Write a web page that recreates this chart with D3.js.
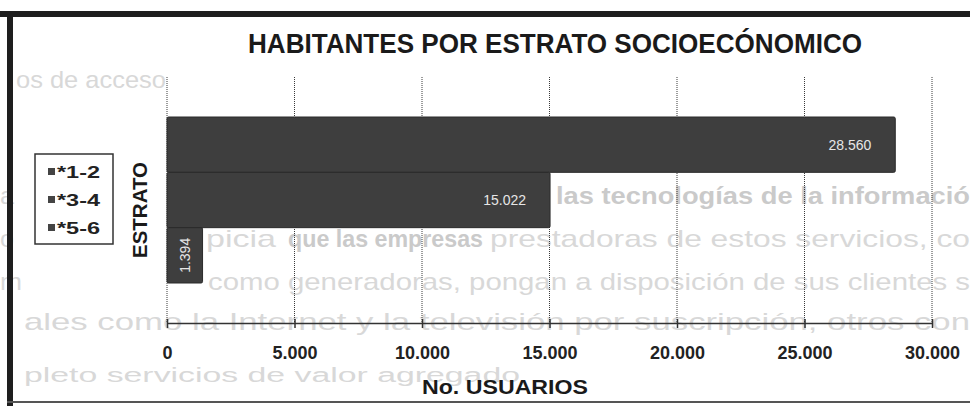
<!DOCTYPE html>
<meta charset="utf-8">
<style>
body { margin: 0; background: #fff; }
svg { display: block; font-family: "Liberation Sans", Arial, sans-serif; }
.bleed text { fill: #d8d8d8; font-size: 24px; }
.bleed text.b { fill: #cacaca; font-weight: bold; }
.grid line { stroke: #3a3a3a; stroke-width: 1; stroke-dasharray: 1,1; }
.axis path, .axis line { stroke: #333; stroke-width: 1.5; }
.axis text { font-size: 18px; font-weight: bold; fill: #222; }
.bar { fill: #3e3e3e; stroke: #2a2a2a; stroke-width: 1; }
.vlabel { fill: #e6e6e6; font-size: 14px; }
</style>
<svg id="chart" width="970" height="406"></svg>
<script src="https://cdn.jsdelivr.net/npm/d3@7"></script>
<script>
// chart data
var series = ["*1-2", "*3-4", "*5-6"];
var usuarios = [28560, 15022, 1394];
var xTicks = [0, 5000, 10000, 15000, 20000, 25000, 30000];
var title = "HABITANTES POR ESTRATO SOCIOECÓNOMICO";

// page text showing through the scan
var bleedLines = [
  {x: 16, y: 88, t: "os de acceso", w: 150},
  {x: 0, y: 204, t: "a", w: 14},
  {x: 556, y: 204, t: "las tecnologías de la informació", w: 414, b: true},
  {x: 0, y: 247, t: "o", w: 14},
  {x: 206, y: 247, t: "picia", w: 70},
  {x: 288, y: 247, t: "que las empresas", w: 195, b: true},
  {x: 490, y: 247, t: "prestadoras de estos servicios, co", w: 480},
  {x: 208, y: 290, t: "como generadoras, pongan a disposición de sus clientes s", w: 762},
  {x: 0, y: 290, t: "m", w: 22},
  {x: 24, y: 330, t: "ales como la Internet y la televisión por suscripción, otros con", w: 946},
  {x: 24, y: 382, t: "pleto servicios de valor agregado", w: 496, s: 20}
];

var fmt = d3.formatLocale({decimal: ",", thousands: ".", grouping: [3], currency: ["$", ""]}).format(",");

var svg = d3.select("#chart");
var plotLeft = 167, plotRight = 932, plotTop = 77, plotBottom = 323;

var x = d3.scaleLinear().domain([0, 30000]).range([plotLeft, plotRight]);
var y = d3.scaleBand().domain(series).range([plotTop + 40, plotBottom - 40]);

// faint background text
svg.append("g").attr("class", "bleed")
  .selectAll("text").data(bleedLines).enter().append("text")
    .attr("class", function(d) { return d.b ? "b" : null; })
    .attr("x", function(d) { return d.x; })
    .attr("y", function(d) { return d.y; })
    .attr("textLength", function(d) { return d.w; })
    .attr("lengthAdjust", "spacingAndGlyphs")
    .style("font-size", function(d) { return d.s ? d.s + "px" : null; })
    .text(function(d) { return d.t; });

// frame of the scanned chart
svg.append("rect").attr("x", 0).attr("y", 11).attr("width", 970).attr("height", 6).attr("fill", "#1e1e1e");
svg.append("rect").attr("x", 7).attr("y", 11).attr("width", 6).attr("height", 395).attr("fill", "#1e1e1e");
svg.append("rect").attr("x", 7).attr("y", 401).attr("width", 963).attr("height", 2).attr("fill", "#555");

// title
svg.append("text")
  .attr("x", 248).attr("y", 53)
  .attr("textLength", 614).attr("lengthAdjust", "spacingAndGlyphs")
  .style("font-size", "27px").style("font-weight", "bold").style("fill", "#1a1a1a")
  .text(title);

// vertical gridlines
svg.append("g").attr("class", "grid")
  .selectAll("line").data(xTicks).enter().append("line")
    .attr("x1", function(d) { return x(d); })
    .attr("x2", function(d) { return x(d); })
    .attr("y1", plotTop).attr("y2", plotBottom);

// bars
svg.selectAll(".bar").data(series).enter().append("rect")
  .attr("class", "bar")
  .attr("x", x(0))
  .attr("y", function(d) { return y(d); })
  .attr("width", function(d, i) { return x(usuarios[i]) - x(0); })
  .attr("height", y.bandwidth())
  .attr("rx", 1.5);

// value labels
series.forEach(function(s, i) {
  var v = usuarios[i];
  var cy = y(s) + y.bandwidth() / 2;
  if (x(v) - x(0) > 80) {
    svg.append("text").attr("class", "vlabel")
      .attr("x", x(v) - 24).attr("y", cy + 5)
      .attr("text-anchor", "end")
      .text(fmt(v));
  } else {
    // short bar: label turned to read upward
    var cx = (x(0) + x(v)) / 2;
    svg.append("text").attr("class", "vlabel")
      .attr("transform", "translate(" + (cx + 5) + "," + cy + ") rotate(-90)")
      .attr("text-anchor", "middle")
      .text(fmt(v));
  }
});

// x axis
var axis = svg.append("g").attr("class", "axis")
  .attr("transform", "translate(0," + plotBottom + ")")
  .call(d3.axisBottom(x).tickValues(xTicks).tickSize(5).tickSizeOuter(0).tickFormat(fmt));
axis.selectAll(".tick line").attr("y1", -4);
axis.selectAll("text").attr("dy", 0).attr("y", 36);

// axis titles
svg.append("text")
  .attr("x", 422).attr("y", 394)
  .attr("textLength", 166).attr("lengthAdjust", "spacingAndGlyphs")
  .style("font-size", "21px").style("font-weight", "bold").style("fill", "#1a1a1a")
  .text("No. USUARIOS");

svg.append("text")
  .attr("transform", "translate(147,210) rotate(-90)")
  .attr("text-anchor", "middle")
  .attr("textLength", 96).attr("lengthAdjust", "spacingAndGlyphs")
  .style("font-size", "21px").style("font-weight", "bold").style("fill", "#1a1a1a")
  .text("ESTRATO");

// legend
var legend = svg.append("g");
legend.append("rect")
  .attr("x", 35).attr("y", 154).attr("width", 78).attr("height", 90)
  .attr("fill", "#fff").attr("stroke", "#333").attr("stroke-width", 1.5);
var item = legend.selectAll(".item").data(series).enter().append("g")
  .attr("transform", function(d, i) { return "translate(48," + (172 + i * 28) + ")"; });
item.append("rect").attr("x", 0).attr("y", -4).attr("width", 7).attr("height", 7).attr("fill", "#444");
item.append("text")
  .attr("x", 9).attr("y", 6)
  .attr("textLength", 43).attr("lengthAdjust", "spacingAndGlyphs")
  .style("font-size", "16px").style("font-weight", "bold").style("fill", "#222")
  .text(function(d) { return d; });
</script>
